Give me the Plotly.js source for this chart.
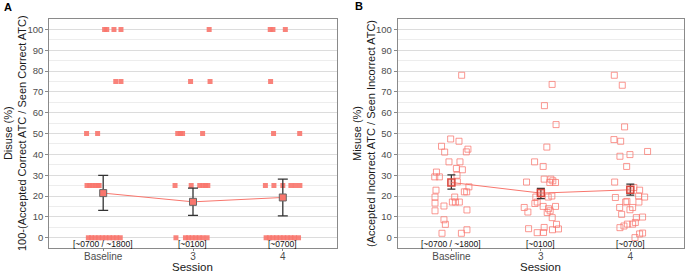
<!DOCTYPE html>
<html><head><meta charset="utf-8">
<script src="https://cdn.plot.ly/plotly-3.0.1.min.js"></script>
<style>html,body{margin:0;padding:0;background:#fff}#chart{width:685px;height:272px}</style>
</head><body><div id="chart"></div>
<script>
const sessions = ['Baseline', '3', '4'];
const sessionNotes = ['[~0700 / ~1800]', '[~0100]', '[~0700]'];
const xTitle = 'Session';
const yTitleA = 'Disuse (%)<br>100-(Accepted Correct ATC / Seen Correct ATC)';
const yTitleB = 'Misuse (%)<br>(Accepted Incorrect ATC / Seen Incorrect ATC)';

// Panel A: Disuse (%) per participant (horizontal jitter, value)
const disuseBaselineJitter = [0.016,0.04,0.12,0.198, 0.14,0.198, -0.185,-0.062, -0.18,-0.15,-0.12,-0.09,-0.06,-0.045, -0.165,-0.13,-0.09,-0.05,-0.01,0.03,0.07,0.11,0.15,0.19];
const disuseBaselineValues = [100,100,100,100, 75,75, 50,50, 25,25,25,25,25,25, 0,0,0,0,0,0,0,0,0,0];
const disuseS3Jitter = [0.18, -0.027,0.19, -0.17,-0.14,-0.116,0.107, -0.2,-0.02,0.075,0.11,0.14,0.165, -0.19,-0.084,-0.05,-0.01,0.03,0.07,0.11,0.157];
const disuseS3Values = [100, 75,75, 50,50,50,50, 25,25,25,25,25,25, 0,0,0,0,0,0,0,0];
const disuseS4Jitter = [-0.14,-0.11,0.028, -0.136, -0.103,0.188, -0.194,-0.099,0,0.09,0.14,0.19, -0.186,-0.15,-0.11,-0.07,-0.03,0.01,0.05,0.09,0.13,0.175];
const disuseS4Values = [100,100,100, 75, 50,50, 25,25,25,25,25,25, 0,0,0,0,0,0,0,0,0,0];
const disuseMean = [21.4, 17.2, 19.3];
const disuseUpper = [29.9, 23.8, 28.1];
const disuseLower = [13.1, 10.7, 10.5];

// Panel B: Misuse (%) per participant (horizontal jitter, value)
const misuseBaselineJitter = [-0.008,0.085,-0.11,0.185,0.167,-0.075,-0.027,0.096,0.056,0.123,-0.167,-0.186,-0.134,0.063,0.067,0.196,-0.172,0.145,0.171,0.037,-0.183,-0.183,0.011,0.045,0.089,-0.083,-0.183,0.174,-0.083,-0.067,-0.105,0.112,0.174,0.115];
const misuseBaselineValues = [47.4,46.3,43.9,42.5,41.2,41.1,36.4,36.4,33.2,32.6,31.5,29.2,29.2,30.0,26.8,24.4,22.8,22.0,22.0,19.5,19.5,16.6,17.1,17.1,17.1,15.2,12.9,13.3,8.6,6.4,2.1,2.1,3.8,78.0];
const misuseS3Jitter = [0.067,-0.07,0.026,-0.16,0.037,0.112,0.134,0.1,0.164,-0.056,-0.041,-0.067,0.082,0.123,-0.186,-0.145,0.026,0.086,0.104,0.164,0.071,0.127,0.175,0.197,-0.137,0.037,0.03,-0.041,0.13,0.126,0.04,0.17];
const misuseS3Values = [43.5,36.4,34.2,26.7,28.1,28.1,27.3,26.5,26.5,19.5,17.1,16.4,19.5,20.0,14.5,12.3,15.0,13.9,12.9,15.0,12.1,9.6,6.4,4.2,4.3,4.9,2.5,2.4,3.8,73.6,63.4,54.3];
const misuseS4Jitter = [-0.183,-0.108,-0.116,-0.004,0.193,-0.041,-0.175,0.04,0.104,-0.167,0.093,0.16,-0.038,-0.052,0.096,-0.119,0.026,-0.004,-0.097,0.067,0.137,0.056,-0.033,0.026,-0.116,-0.071,0.137,0.104,0.052,-0.179,-0.09,-0.064];
const misuseS4Values = [47.1,46.3,39.1,39.9,41.4,34.2,26.7,24.1,22.8,19.3,20.0,19.5,17.4,17.1,17.1,14.5,14.5,13.4,11.2,9.6,9.9,7.3,6.5,6.5,4.8,5.6,2.2,1.8,0.0,78.0,73.2,53.2];
const misuseMean = [26.5, 21.4, 23.0];
const misuseUpper = [30.2, 23.6, 25.7];
const misuseLower = [23.3, 18.7, 20.4];

const SAL = '#F8766D';
function pos(jit, idx) { return jit.map(j => idx + j); }

const dX = [].concat(pos(disuseBaselineJitter,0), pos(disuseS3Jitter,1), pos(disuseS4Jitter,2));
const dY = [].concat(disuseBaselineValues, disuseS3Values, disuseS4Values);
const mX = [].concat(pos(misuseBaselineJitter,0), pos(misuseS3Jitter,1), pos(misuseS4Jitter,2));
const mY = [].concat(misuseBaselineValues, misuseS3Values, misuseS4Values);
const idx = sessions.map((s,i) => i);

const traces = [
  {x: dX, y: dY, type: 'scatter', mode: 'markers', xaxis: 'x', yaxis: 'y', hoverinfo: 'skip',
   marker: {symbol: 'square', size: 5, color: 'rgba(248,118,109,0.9)', line: {width: 0}}},
  {x: idx, y: disuseMean, type: 'scatter', mode: 'lines+markers', xaxis: 'x', yaxis: 'y',
   line: {color: SAL, width: 1},
   marker: {symbol: 'square', size: 7, color: SAL, line: {color: '#666', width: 1}},
   error_y: {type: 'data', symmetric: false,
     array: disuseUpper.map((u,i) => u - disuseMean[i]),
     arrayminus: disuseLower.map((l,i) => disuseMean[i] - l),
     color: '#333', thickness: 1.3, width: 5}},
  {x: mX, y: mY, type: 'scatter', mode: 'markers', xaxis: 'x2', yaxis: 'y2', hoverinfo: 'skip',
   marker: {symbol: 'square-open', size: 6, color: 'rgba(248,118,109,0.75)', line: {width: 1}}},
  {x: idx, y: misuseMean, type: 'scatter', mode: 'lines+markers', xaxis: 'x2', yaxis: 'y2',
   line: {color: SAL, width: 1},
   marker: {symbol: 'square', size: 7, color: 'rgba(248,118,109,0.35)', line: {color: '#D9473D', width: 1.5}},
   error_y: {type: 'data', symmetric: false,
     array: misuseUpper.map((u,i) => u - misuseMean[i]),
     arrayminus: misuseLower.map((l,i) => misuseMean[i] - l),
     color: '#333', thickness: 1.3, width: 4}}
];

const font = 'Liberation Sans, Arial, sans-serif';
function xAxis(domain, anchor) {
  return {domain: domain, anchor: anchor, range: [-0.6, 2.6], tickvals: idx, ticktext: sessions,
    showgrid: false, zeroline: false, showline: true, mirror: true, linecolor: '#8a8a8a', linewidth: 1,
    ticks: 'outside', ticklen: 2, tickcolor: '#8a8a8a', ticklabelstandoff: -3,
    tickfont: {family: font, size: 10, color: '#4D4D4D'}};
}
function yAxis(anchor) {
  return {domain: [0.088, 0.930], anchor: anchor, range: [-5, 105], tick0: 0, dtick: 10,
    showgrid: true, gridcolor: '#DCDCDC', gridwidth: 1, zeroline: false,
    minor: {dtick: 5, tick0: 0, showgrid: true, gridcolor: '#EDEDED', gridwidth: 1, ticks: ''},
    showline: true, mirror: true, linecolor: '#8a8a8a', linewidth: 1,
    ticks: 'outside', ticklen: 3, tickcolor: '#8a8a8a', tickfont: {family: font, size: 9.5, color: '#4D4D4D'}};
}

const annotations = [];
sessionNotes.forEach((t,i) => {
  ['x','x2'].forEach((xr, k) => {
    annotations.push({xref: xr, yref: k ? 'y2' : 'y', x: i, y: -3.2, text: t, showarrow: false,
      font: {family: font, size: 8.5, color: '#111'}, xanchor: 'center', yanchor: 'middle'});
  });
});
// x-axis titles
['x','x2'].forEach(xr => {
  annotations.push({xref: xr, yref: 'paper', x: 1, y: 1 - 267/272, text: xTitle, showarrow: false,
    xanchor: 'center', yanchor: 'middle', font: {family: font, size: 11.5, color: '#1a1a1a'}});
});
// y-axis titles (two lines, rotated)
annotations.push({xref: 'paper', yref: 'paper', x: 15.5/685, y: 1 - 133.5/272, text: yTitleA, textangle: -90,
  showarrow: false, xanchor: 'center', yanchor: 'middle', font: {family: font, size: 11, color: '#1a1a1a'}});
annotations.push({xref: 'paper', yref: 'paper', x: 364.5/685, y: 1 - 133.5/272, text: yTitleB, textangle: -90,
  showarrow: false, xanchor: 'center', yanchor: 'middle', font: {family: font, size: 11, color: '#1a1a1a'}});
annotations.push({xref: 'paper', yref: 'paper', x: 2/685, y: 1 - 7/272, text: '<b>A</b>', showarrow: false,
  xanchor: 'left', yanchor: 'middle', font: {family: font, size: 11, color: '#000'}});
annotations.push({xref: 'paper', yref: 'paper', x: 353/685, y: 1 - 6/272, text: '<b>B</b>', showarrow: false,
  xanchor: 'left', yanchor: 'middle', font: {family: font, size: 11, color: '#000'}});

const layout = {
  width: 685, height: 272, margin: {l: 0, r: 0, t: 0, b: 0},
  paper_bgcolor: '#fff', plot_bgcolor: '#fff', showlegend: false,
  xaxis: xAxis([49.3/685, 336.7/685], 'y'),
  yaxis: yAxis('x'),
  xaxis2: xAxis([397.7/685, 684/685], 'y2'),
  yaxis2: yAxis('x2'),
  annotations: annotations
};

Plotly.newPlot('chart', traces, layout, {staticPlot: true, displayModeBar: false});
</script></body></html>
